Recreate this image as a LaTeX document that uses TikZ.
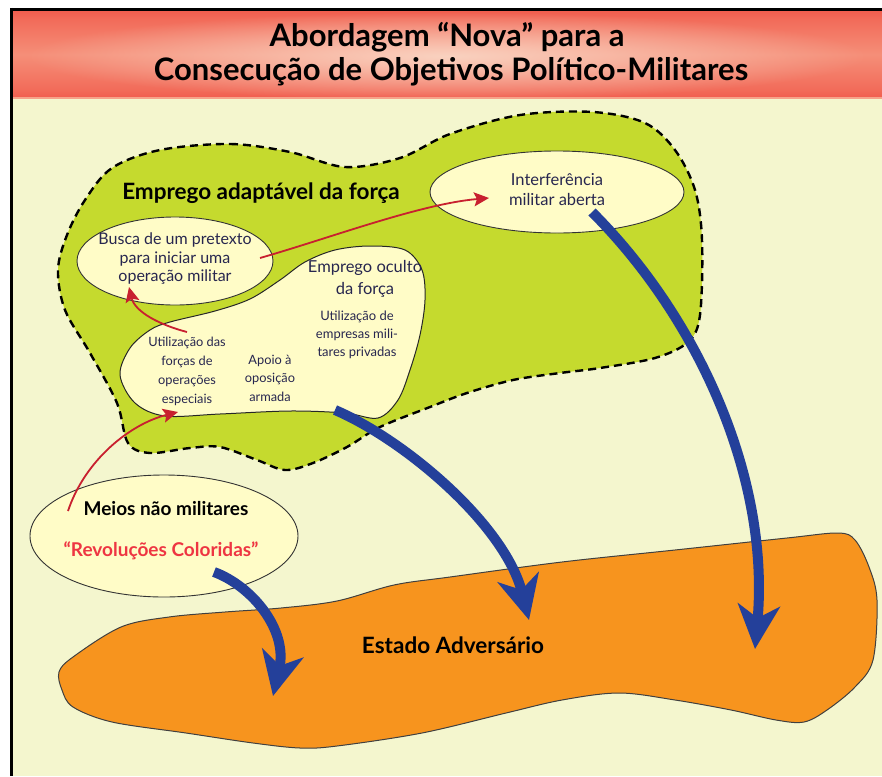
\documentclass[tikz,border=0pt]{standalone}
\usepackage{fontspec}
\setmainfont{Lato}
\usetikzlibrary{shapes.geometric,arrows.meta,fadings}
\definecolor{bgyellow}{HTML}{F4F6CE}
\definecolor{hdrred}{HTML}{EE3F36}
\definecolor{hdrmid}{HTML}{F26C5A}
\definecolor{hdrmidtwo}{HTML}{F58E78}
\definecolor{hdrbot}{HTML}{F59A84}
\definecolor{hdrlight}{HTML}{FAD2C0}
\definecolor{blobgreen}{HTML}{C5DA2E}
\definecolor{paleyellow}{HTML}{FFFCC7}
\definecolor{stateorange}{HTML}{F7941E}
\definecolor{arrowblue}{HTML}{24409A}
\definecolor{arrowred}{HTML}{C8202F}
\definecolor{textred}{HTML}{EE3542}
\definecolor{navytext}{HTML}{27264F}
\pgfdeclareverticalshading{hdrv}{100bp}{%
  color(0bp)=(hdrbot); color(5bp)=(hdrred); color(15bp)=(hdrred); color(30bp)=(hdrmid);
  color(50bp)=(hdrmidtwo); color(70bp)=(hdrmid); color(86bp)=(hdrred); color(100bp)=(hdrred)}
\tikzfading[name=glowfade, inner color=transparent!0, outer color=transparent!100]
\begin{document}
\begin{tikzpicture}[x=1pt,y=-1pt,
  bubble/.style={ellipse,draw=black!80,line width=0.9pt,fill=paleyellow,inner sep=0pt},
  smalltext/.style={text=navytext,align=center,inner sep=0pt},
  bluearrow/.style={draw=arrowblue,line width=10pt,-{Stealth[length=44pt,width=42pt,inset=13pt]}},
  redarrow/.style={draw=arrowred,line width=1.8pt,-{Stealth[length=15pt,width=14pt,inset=3pt]}}]
\useasboundingbox (0,0) rectangle (882,776);
\fill[white] (0,0) rectangle (882,776);
\fill[bgyellow] (13,98) rectangle (882,776);
\shade[shading=hdrv] (13,11) rectangle (882,98);
\fill[hdrlight,path fading=glowfade] (447,56) ellipse [x radius=420pt, y radius=44pt];
\draw[color={rgb,255:red,247;green,163;blue,138},line width=1.5pt] (13,98) -- (882,98);
\draw[black,line width=3pt] (10,9.5) -- (882,9.5);
\draw[black,line width=3pt] (11.5,8) -- (11.5,776);

% title
\node[font=\fontsize{31}{34}\selectfont\bfseries] (title1) at (447,37) {Abordagem “Nova” para a};
\node[font=\fontsize{31}{34}\selectfont\bfseries] (title2) at (451,72) {Consecução de Objetivos Político-Militares};

% green blob
\draw[fill=blobgreen,line width=2.4pt,dash pattern=on 8pt off 5pt]
  plot[smooth cycle,tension=0.55] coordinates {
  (160,150) (230,144) (290,152) (345,167) (400,158) (450,134) (520,115) (593,112)
  (645,123) (675,150) (695,190) (702,240) (700,315) (688,342) (655,358) (600,368)
  (560,373) (513,380) (467,393) (430,407) (380,427) (347,447) (313,463) (285,470)
  (257,460) (220,447) (190,448) (150,453) (128,443) (117,403) (90,353) (65,310)
  (58,270) (67,235) (85,200) (112,168)};
\node[font=\fontsize{22.5}{24}\selectfont\bfseries] (adapt) at (261,193) {Emprego adaptável da força};

% inner covert blob
\draw[fill=paleyellow,draw=black!85,line width=1pt]
  plot[smooth cycle,tension=0.55] coordinates {
  (170,322) (215,311) (250,299) (280,280) (305,262) (335,250) (370,246) (405,250)
  (422,270) (425,300) (420,335) (410,370) (398,400) (378,418) (345,413) (290,411)
  (220,414) (165,416) (135,403) (120,375) (130,348) (150,330)};
\node[smalltext,font=\fontsize{16.5}{22}\selectfont] (oculto) at (365,279) {Emprego oculto\\da força};
\node[smalltext,font=\fontsize{13}{18}\selectfont] (pmc) at (357,335) {Utilização de\\empresas mili-\\tares privadas};
\node[smalltext,font=\fontsize{12.8}{19}\selectfont] (sof) at (187,371) {Utilização das\\forças de\\operações\\especiais};
\node[smalltext,font=\fontsize{12.8}{18.5}\selectfont] (apoio) at (270,378) {Apoio à\\oposição\\armada};

% pretext ellipse
\node[bubble,minimum width=196pt,minimum height=88pt] (busca) at (175,261) {};
\node[smalltext,font=\fontsize{16}{18.5}\selectfont] (buscat) at (175,259) {Busca de um pretexto\\para iniciar uma\\operação militar};

% open interference ellipse
\node[bubble,minimum width=254pt,minimum height=82pt] (interf) at (557,192) {};
\node[smalltext,font=\fontsize{16.5}{20}\selectfont] (interft) at (557,190) {Interferência\\militar aberta};

% adversary state
\draw[fill=stateorange,draw=black!75,line width=1pt]
  plot[smooth cycle,tension=0.55] coordinates {
  (121,627) (73,657) (59,672) (62,690) (73,707) (112,722) (186,733) (253,743)
  (300,748) (337,746) (422,733) (506,713) (562,700) (619,693) (675,700) (731,710)
  (776,720) (804,722) (827,710) (855,687) (873,660) (877,600) (869,567) (855,540)
  (838,533) (787,538) (675,550) (562,562) (450,577) (394,585) (337,601) (281,608)
  (225,612) (169,617)};
\node[font=\fontsize{22.5}{24}\selectfont\bfseries] (estado) at (453,645) {Estado Adversário};

% non-military ellipse
\node[bubble,minimum width=268pt,minimum height=122pt] (meios) at (164,536) {};
\node[font=\fontsize{19}{20}\selectfont\bfseries,inner sep=0pt] (meiost) at (166,509) {Meios não militares};
\node[font=\fontsize{19}{20}\selectfont\bfseries,text=textred,inner sep=0pt] (revol) at (161,551) {“Revoluções Coloridas”};

% connector coordinates
\coordinate (b1s) at (214,572);
\coordinate (b1e) at (273,696);
\coordinate (b2s) at (335,410);
\coordinate (b2e) at (529,620);
\coordinate (b3s) at (592,212);
\coordinate (b3e) at (755,649);
\coordinate (r1s) at (68,511);
\coordinate (r1e) at (178,412);
\coordinate (r2s) at (187,332);
\coordinate (r2e) at (129,287);
\coordinate (r3s) at (260,258);
\coordinate (r3e) at (489,198);

% blue arrows
\draw[bluearrow] (b1s) .. controls (252,586) and (288,630) .. (b1e);
\draw[bluearrow] (b2s) .. controls (405,440) and (505,525) .. (b2e);
\draw[bluearrow] (b3s) .. controls (700,320) and (770,480) .. (b3e);

% red arrows
\draw[redarrow] (r1s) .. controls (85,460) and (130,424) .. (r1e);
\draw[redarrow] (r2s) .. controls (160,325) and (135,312) .. (r2e);
\draw[redarrow] (r3s) .. controls (330,238) and (420,204) .. (r3e);
\end{tikzpicture}
\end{document}
